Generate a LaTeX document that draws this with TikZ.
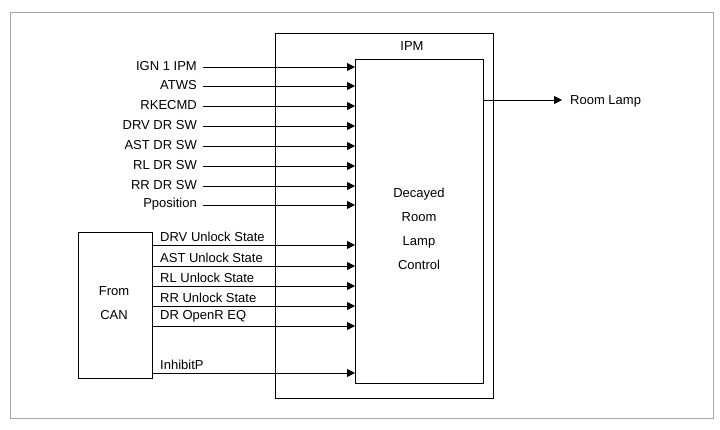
\documentclass[tikz,border=0pt]{standalone}
\usepackage{fontspec}
\setmainfont{Liberation Sans}
\usetikzlibrary{arrows.meta}
\begin{document}
\begin{tikzpicture}[x=1pt,y=-1pt,
  every node/.style={font=\fontsize{13}{24}\selectfont, inner sep=0pt},
  box/.style={draw=black, line width=0.8pt},
  arr/.style={-{Triangle[length=8pt,width=8pt]}, line width=0.8pt},
  lab/.style={anchor=east}]
\useasboundingbox (0,0) rectangle (720,430);
\node[draw=black!35, line width=0.8pt, minimum width=703pt, minimum height=406pt, anchor=north west] (frame) at (10,12) {};
\node[box, minimum width=218pt, minimum height=365pt, anchor=north west] (ipm) at (275,33) {};
\node at (412,46) (ipmlab) {IPM};
\node[box, minimum width=128pt, minimum height=324pt, anchor=north west, align=center] (ctl) at (355,59) {};
\node[align=center] (ctltext) at (419,229) {Decayed\\Room\\Lamp\\Control};
\node[box, minimum width=74pt, minimum height=146pt, anchor=north west] (can) at (78,232) {};
\node[align=center] (cantext) at (114,303) {From\\CAN};
% direct inputs
\foreach \n/\y/\t in {a/67/IGN 1 IPM, b/86/ATWS, c/106/RKECMD, d/126/DRV DR SW, e/146/AST DR SW, f/166/RL DR SW, g/186/RR DR SW, h/205/Pposition}{
  \node[lab] (\n) at (197,\y-1) {\t};
  \draw[arr] ([xshift=6pt]\n.east |- 0,\y) -- (ctl.west |- 0,\y);
}
% CAN inputs
\foreach \n/\y/\t in {p/245/DRV Unlock State, q/266/AST Unlock State, r/286/RL Unlock State, s/306/RR Unlock State, t/326/DR OpenR EQ, u/373/InhibitP}{
  \coordinate (\n) at (0,\y);
  \draw[arr] (can.east |- \n) -- (ctl.west |- \n)
     node[pos=0, anchor=south west, xshift=7pt, yshift=3pt] {\t};
}
% output
\coordinate (rl) at (562,100);
\draw[arr] (ctl.east |- rl) -- (rl);
\node[anchor=west] (rltext) at ([xshift=8pt,yshift=-1pt]rl) {Room Lamp};
\end{tikzpicture}
\end{document}
